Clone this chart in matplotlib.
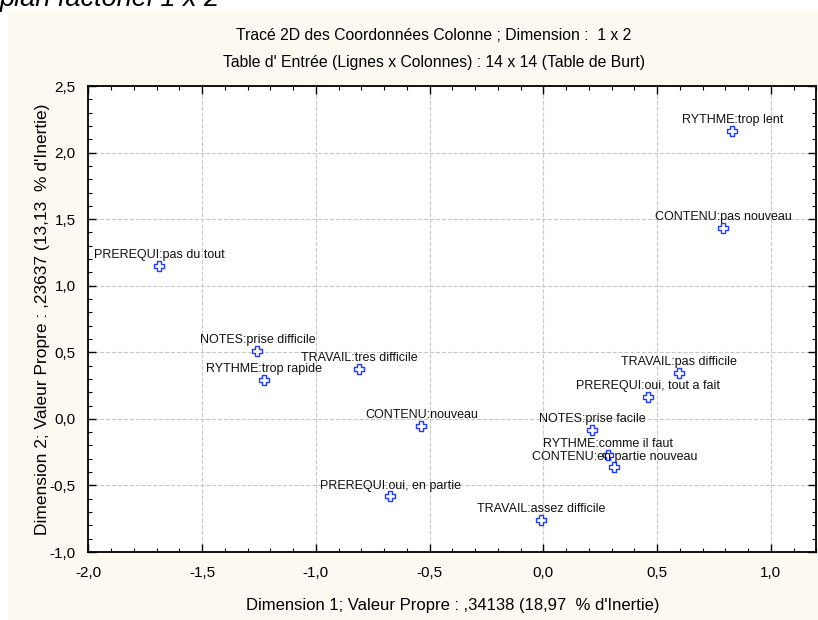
import matplotlib.pyplot as plt
from matplotlib.patches import Rectangle
from matplotlib.ticker import MultipleLocator, FuncFormatter

plt.rcParams["font.family"] = ["Liberation Sans", "DejaVu Sans"]

# Coordonnees colonne (Dimension 1, Dimension 2)
labels = ["RYTHME:trop lent", "CONTENU:pas nouveau", "PREREQUI:pas du tout",
          "NOTES:prise difficile", "RYTHME:trop rapide", "TRAVAIL:tres difficile",
          "CONTENU:nouveau", "PREREQUI:oui, en partie", "TRAVAIL:assez difficile",
          "TRAVAIL:pas difficile", "PREREQUI:oui, tout a fait", "NOTES:prise facile",
          "RYTHME:comme il faut", "CONTENU:en partie nouveau"]
dim1 = [0.831, 0.791, -1.688, -1.257, -1.226, -0.809, -0.536, -0.673, -0.009,
        0.598, 0.462, 0.215, 0.286, 0.312]
dim2 = [2.165, 1.432, 1.150, 0.508, 0.290, 0.372, -0.053, -0.583, -0.756,
        0.342, 0.162, -0.083, -0.270, -0.365]

parameters = {
    "title 1": "Tracé 2D des Coordonnées Colonne ; Dimension :  1 x 2",
    "title 2": "Table d' Entrée (Lignes x Colonnes) : 14 x 14 (Table de Burt)",
    "xlabel": "Dimension 1; Valeur Propre : ,34138 (18,97  % d'Inertie)",
    "ylabel": "Dimension 2; Valeur Propre : ,23637 (13,13  % d'Inertie)",
    "fontsize": 11,
    "background": "#fcf9f1",
}

fig = plt.figure(figsize=(8.18, 6.2), dpi=100)
fig.patch.set_facecolor("white")
# fond creme (la partie blanche en haut laisse voir le texte coupe)
fig.patches.append(Rectangle((8 / 818, 0), 1, (620 - 10) / 620,
                             transform=fig.transFigure,
                             facecolor=parameters["background"],
                             edgecolor="none", zorder=-10))
fig.text(0.0, 1 - 6 / 620, "plan factoriel 1 x 2", style="italic",
         fontsize=19.5, ha="left", va="baseline")

ax = fig.add_axes([88.3 / 818, (620 - 552) / 620,
                   (816.3 - 88.3) / 818, (552 - 86) / 620])
ax.set_facecolor("white")
ax.set_xlim(-2.0, 1.2)
ax.set_ylim(-1.0, 2.5)
ax.xaxis.set_major_locator(MultipleLocator(0.5))
ax.xaxis.set_minor_locator(MultipleLocator(0.1))
ax.yaxis.set_major_locator(MultipleLocator(0.5))
ax.yaxis.set_minor_locator(MultipleLocator(0.1))
comma = FuncFormatter(lambda v, p: "{:.1f}".format(v).replace(".", ","))
ax.xaxis.set_major_formatter(comma)
ax.yaxis.set_major_formatter(comma)
ax.tick_params(which="both", direction="in", top=True, right=True,
               labelsize=parameters["fontsize"], colors="black")
ax.tick_params(which="major", length=6, width=1)
ax.tick_params(which="minor", length=3, width=0.8)
ax.tick_params(axis="x", pad=10)
ax.tick_params(axis="y", pad=9)
for spine in ax.spines.values():
    spine.set_linewidth(1.3)
ax.grid(which="major", ls="--", color="#c8c8c8", lw=0.8)
ax.set_axisbelow(True)

ax.scatter(dim1, dim2, marker="P", s=42, facecolors="white",
           edgecolors="#1f3cff", linewidths=1.0, zorder=3)
for lab, x, y in zip(labels, dim1, dim2):
    ax.annotate(lab, (x, y), xytext=(0, 3.5), textcoords="offset points",
                ha="center", va="bottom", fontsize=9, color="#111111",
                zorder=4)

fig.text(434 / 818, 1 - 36 / 620, parameters["title 1"],
         fontsize=parameters["fontsize"] + 0.3, ha="center", va="center")
fig.text(434 / 818, 1 - 63 / 620, parameters["title 2"],
         fontsize=parameters["fontsize"] + 0.3, ha="center", va="center")
ax.set_xlabel(parameters["xlabel"], fontsize=12, labelpad=13)
ax.set_ylabel(parameters["ylabel"], fontsize=12.5, labelpad=0)

plt.savefig("out.png", dpi=100, facecolor=fig.get_facecolor())
